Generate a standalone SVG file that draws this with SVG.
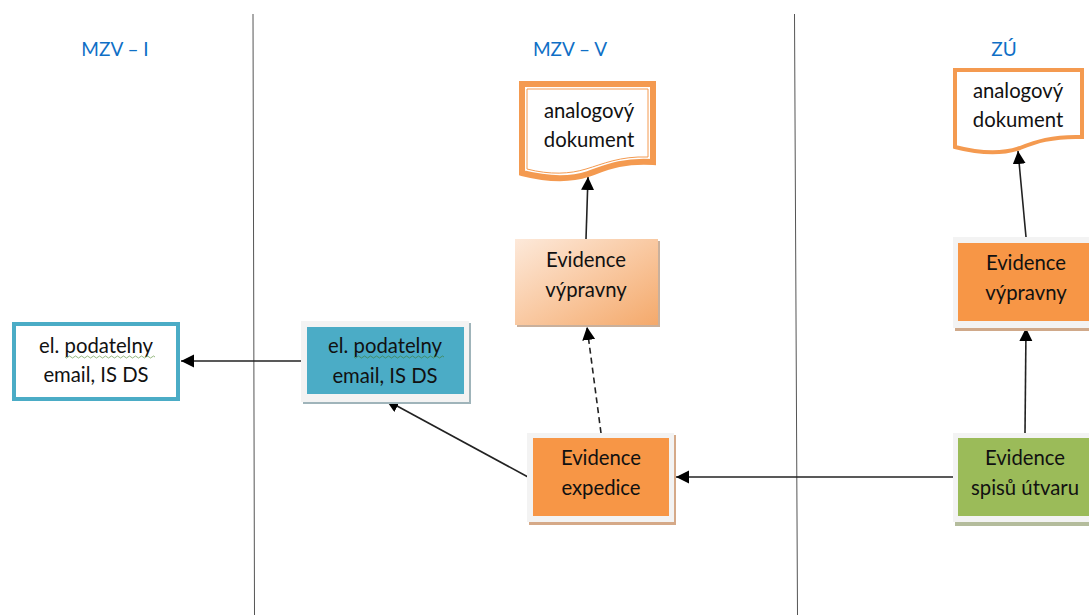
<svg xmlns="http://www.w3.org/2000/svg" width="1089" height="615" viewBox="0 0 1089 615">
<style>
text{font-family:Lato,"Open Sans","Liberation Sans",sans-serif;font-size:20.300px;fill:#111;text-anchor:middle}
.h{fill:#0f6fc6;font-size:19px}
.lane{stroke:#555;stroke-width:1;fill:none}
.c{stroke:#222;stroke-width:1.6;fill:none}
.frame{fill:#f3f3f3}
.o{fill:#f79646}
.d{stroke:#f49a50}
</style>
<defs>
<marker id="a" markerUnits="userSpaceOnUse" markerWidth="14" markerHeight="14" refX="13" refY="6.500" orient="auto"><path d="M0 0L13 6.500L0 13Z" fill="#000"/></marker>
<linearGradient id="g" x1="0" y1="0" x2="1" y2="1"><stop offset="0" stop-color="#fde9da"/><stop offset=".5" stop-color="#f9c9a2"/><stop offset="1" stop-color="#f4a96b"/></linearGradient>
</defs>
<g id="lanes">
<path class="lane" d="M253 14L254.500 615"/>
<path class="lane" d="M794.500 14L797.500 615"/>
<text class="h" x="115" y="56">MZV – I</text>
<text class="h" x="570" y="56">MZV – V</text>
<text class="h" x="1004" y="56">ZÚ</text>
</g>
<g id="connectors">
<path class="c" d="M301 361H181" marker-end="url(#a)"/>
<path class="c" d="M528 477L386 400" marker-end="url(#a)"/>
<path class="c" d="M601 433L587 327" stroke-dasharray="6 4" marker-end="url(#a)"/>
<path class="c" d="M586 239L588 177" marker-end="url(#a)"/>
<path class="c" d="M953 477H676" marker-end="url(#a)"/>
<path class="c" d="M1025 433L1026 328" marker-end="url(#a)"/>
<path class="c" d="M1026 237L1018 151" marker-end="url(#a)"/>
</g>
<g id="n-podatelna-i">
<rect x="14" y="324" width="164" height="75" fill="#fff" stroke="#4bacc6" stroke-width="4"/>
<text x="96" y="353">el. podatelny</text><text x="96" y="382">email, IS DS</text>
<path d="M65 357q1.500 2 3 0t3 0t3 0t3 0t3 0t3 0t3 0t3 0t3 0t3 0t3 0t3 0t3 0t3 0t3 0t3 0t3 0t3 0t3 0t3 0t3 0t3 0t3 0t3 0t3 0t3 0t3 0t3 0t3 0t3 0" fill="none" stroke="#6a9a4a" stroke-width=".7"/>
</g>
<g id="n-podatelna-v">
<rect x="303" y="323" width="168" height="81" fill="#9fb4ba"/>
<rect x="301" y="321" width="168" height="81" class="frame"/>
<rect x="307" y="327" width="157" height="67" fill="#4bacc6"/>
<text x="385" y="353">el. podatelny</text><text x="385" y="383">email, IS DS</text>
<path d="M354 357q1.500 2 3 0t3 0t3 0t3 0t3 0t3 0t3 0t3 0t3 0t3 0t3 0t3 0t3 0t3 0t3 0t3 0t3 0t3 0t3 0t3 0t3 0t3 0t3 0t3 0t3 0t3 0t3 0t3 0t3 0t3 0" fill="none" stroke="#3f7f3f" stroke-width=".7"/>
</g>
<g id="n-expedice">
<rect x="529" y="435" width="147" height="90" fill="#d5a988"/>
<rect x="527" y="433" width="147" height="89" class="frame"/>
<rect x="533" y="438" width="136" height="78" class="o"/>
<text x="601" y="465">Evidence</text><text x="601" y="495">expedice</text>
</g>
<g id="n-vypravny-v">
<rect x="517" y="241" width="143" height="86" fill="#c9b09c"/>
<rect x="515" y="239" width="143" height="86" fill="url(#g)"/>
<text x="586" y="267">Evidence</text><text x="586" y="297">výpravny</text>
</g>
<g id="n-doc-v">
<path class="d" d="M522 84H653V162C622 160 605 168 588 174C570 180 550 180 522 173Z" fill="#fff" stroke-width="6"/>
<path class="d" d="M527 89H648V157C620 156 603 164 586 169C570 174 550 175 527 169Z" fill="none" stroke-width="1"/>
<text x="589" y="118">analogový</text><text x="589" y="147">dokument</text>
</g>
<g id="n-doc-z">
<path class="d" d="M955 70H1082V137C1052 136 1035 142 1020 148C1003 154 982 154 955 147Z" fill="#fff" stroke-width="4"/>
<text x="1018" y="98">analogový</text><text x="1018" y="127">dokument</text>
</g>
<g id="n-vypravny-z">
<rect x="955" y="239" width="134" height="92" fill="#d0a98a"/>
<rect x="953" y="237" width="136" height="91" class="frame"/>
<rect x="958" y="243" width="131" height="78" class="o"/>
<text x="1026" y="270">Evidence</text><text x="1026" y="300">výpravny</text>
</g>
<g id="n-spisy">
<rect x="955" y="435" width="134" height="91" fill="#b4bc9c"/>
<rect x="953" y="433" width="136" height="89" class="frame"/>
<rect x="958" y="438" width="131" height="78" fill="#9bbb59"/>
<text x="1025" y="465">Evidence</text><text x="1025" y="495">spisů útvaru</text>
</g>
</svg>
